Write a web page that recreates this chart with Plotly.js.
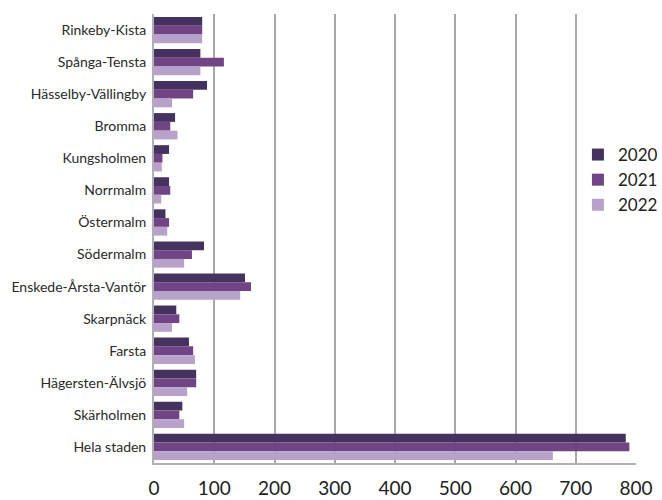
<!DOCTYPE html>
<html>
<head>
<meta charset="utf-8">
<script src="https://cdn.plot.ly/plotly-3.0.1.min.js"></script>
<style>html,body{margin:0;padding:0;background:#fff;}#chart{width:662px;height:500px;}</style>
</head>
<body>
<div id="chart"></div>
<script>
var categories = ["Rinkeby-Kista","Spånga-Tensta","Hässelby-Vällingby","Bromma","Kungsholmen","Norrmalm","Östermalm","Södermalm","Enskede-Årsta-Vantör","Skarpnäck","Farsta","Hägersten-Älvsjö","Skärholmen","Hela staden"];
var years = ["2020","2021","2022"];
var values2020 = [80, 77, 88, 35, 25, 25, 19, 83, 151, 37, 58, 70, 47, 783];
var values2021 = [80, 116, 65, 27, 14, 27, 25, 63, 161, 42, 65, 70, 42, 789];
var values2022 = [80, 77, 30, 39, 13, 12, 22, 50, 143, 30, 68, 55, 50, 662];
var tickVals = [0,100,200,300,400,500,600,700,800];
var colors = ["#45325e","#714585","#b9a2c9"];
var series = [values2020, values2021, values2022];

var traces = series.map(function(v,i){
  return {type:"bar", orientation:"h", name:years[i], x:v, y:categories,
    marker:{color:colors[i], line:{width:0}}};
});

var layout = {
  width:662, height:500,
  margin:{l:154, r:26, t:14, b:37, autoexpand:false},
  paper_bgcolor:"#fff", plot_bgcolor:"#fff",
  barmode:"group", bargap:0.18, bargroupgap:0,
  font:{family:"Lato, 'Open Sans', sans-serif", color:"#2a2a2a"},
  xaxis:{range:[0,800], tickvals:tickVals, ticktext:tickVals.map(String),
    showgrid:true, gridcolor:"#a8a8a8", gridwidth:2, zeroline:false,
    showline:true, linecolor:"#b0b0b0", linewidth:2, automargin:false,
    ticks:"", tickfont:{size:19, color:"#222"}, ticklabelstandoff:7},
  yaxis:{autorange:"reversed", showgrid:false, zeroline:false, automargin:false,
    showline:true, linecolor:"#b0b0b0", linewidth:2,
    ticks:"", tickfont:{size:14, color:"#2a2a2a"}, ticklabelstandoff:3},
  legend:{xref:"container", yref:"container", x:0.873, y:0.64, xanchor:"left", yanchor:"middle",
    bgcolor:"#fff", font:{size:17, color:"#222"}, itemwidth:30, tracegroupgap:8},
  showlegend:true
};
Plotly.newPlot("chart", traces, layout, {displayModeBar:false, staticPlot:true});
</script>
</body>
</html>
